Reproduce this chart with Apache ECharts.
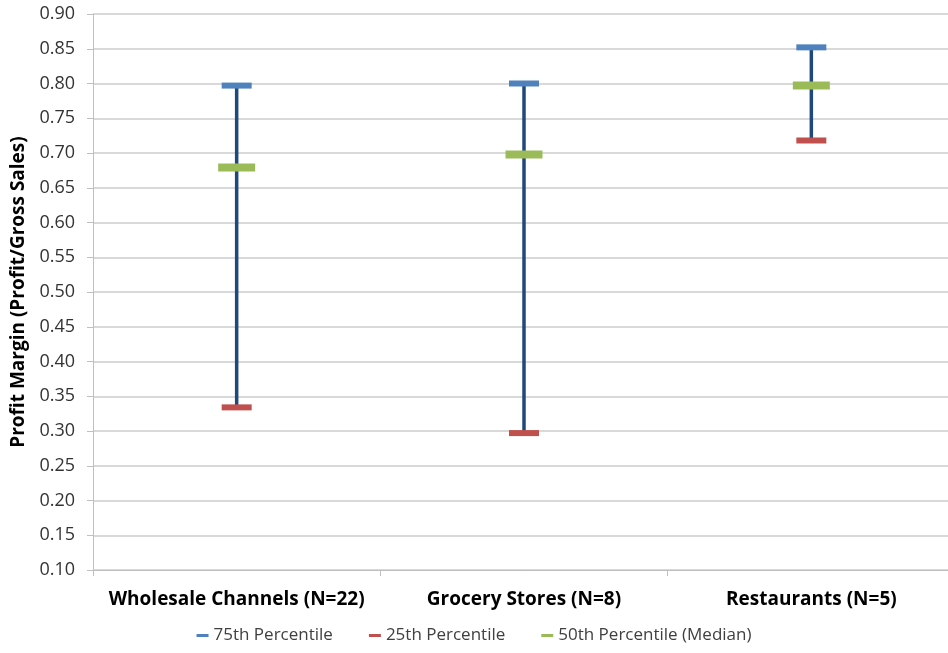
<!DOCTYPE html>
<html>
<head>
<meta charset="utf-8">
<script src="https://cdn.jsdelivr.net/npm/echarts@6/dist/echarts.min.js"></script>
<style>
  html, body { margin: 0; padding: 0; background: #fff; }
  #chart { width: 948px; height: 653px; }
</style>
</head>
<body>
<div id="chart"></div>
<script>
// Profit margin percentiles by channel
const categories = ['Wholesale Channels (N=22)', 'Grocery Stores (N=8)', 'Restaurants (N=5)'];
const p75 = [0.797, 0.800, 0.852];
const p25 = [0.334, 0.297, 0.718];
const p50 = [0.679, 0.698, 0.797];
const yTicks = { min: 0.10, max: 0.90, step: 0.05 };

const FONT = '"Open Sans", "Liberation Sans", sans-serif';

const chart = echarts.init(document.getElementById('chart'), null, { renderer: 'canvas' });

// whisker between the 25th and 75th percentile of each category
const rangeSeries = {
  type: 'custom',
  name: 'range',
  silent: true,
  z: 1,
  encode: { x: 0, y: [1, 2] },
  data: categories.map((c, i) => [i, p25[i], p75[i]]),
  renderItem: function (params, api) {
    const lo = api.coord([api.value(0), api.value(1)]);
    const hi = api.coord([api.value(0), api.value(2)]);
    return {
      type: 'line',
      shape: { x1: lo[0], y1: lo[1], x2: hi[0], y2: hi[1] },
      style: { stroke: '#1F497D', lineWidth: 3.5 }
    };
  }
};

function markerSeries(name, values, color, size) {
  return {
    type: 'scatter',
    name: name,
    symbol: 'rect',
    symbolSize: size,
    z: 3,
    itemStyle: { color: color, opacity: 1 },
    data: values.map((v, i) => [i, v])
  };
}

const option = {
  animation: false,
  backgroundColor: '#ffffff',
  // plot area runs slightly past the right edge of the canvas
  grid: { left: 93, top: 14, right: -7, bottom: 83, containLabel: false, outerBoundsMode: 'none' },
  legend: {
    bottom: 4,
    left: 'center',
    icon: 'rect',
    itemWidth: 12,
    itemHeight: 3,
    itemGap: 36,
    data: ['75th Percentile', '25th Percentile', '50th Percentile (Median)'],
    textStyle: { fontFamily: FONT, fontSize: 17, color: '#404040' }
  },
  xAxis: {
    type: 'category',
    data: categories,
    boundaryGap: true,
    axisLine: { lineStyle: { color: '#BFBFBF', width: 1 } },
    axisTick: { show: true, length: 6, lineStyle: { color: '#BFBFBF' } },
    axisLabel: {
      margin: 20,
      fontFamily: FONT,
      fontSize: 19,
      fontWeight: 'bold',
      color: '#000000',
      interval: 0
    }
  },
  yAxis: {
    type: 'value',
    min: yTicks.min,
    max: yTicks.max,
    interval: yTicks.step,
    name: 'Profit Margin (Profit/Gross Sales)',
    nameLocation: 'middle',
    nameGap: 62,
    nameTextStyle: { fontFamily: FONT, fontSize: 19, fontWeight: 'bold', color: '#000000' },
    axisLine: { show: true, lineStyle: { color: '#BFBFBF', width: 1 } },
    axisTick: { show: true, length: 6, lineStyle: { color: '#BFBFBF' } },
    axisLabel: {
      margin: 18,
      fontFamily: FONT,
      fontSize: 18,
      color: '#333333',
      formatter: v => v.toFixed(2)
    },
    splitLine: { lineStyle: { color: '#D9D9D9', width: 2 } }
  },
  series: [
    rangeSeries,
    markerSeries('75th Percentile', p75, '#4F81BD', [30, 6]),
    markerSeries('25th Percentile', p25, '#C0504D', [30, 6]),
    markerSeries('50th Percentile (Median)', p50, '#9BBB59', [37, 8])
  ]
};

chart.setOption(option);
</script>
</body>
</html>
